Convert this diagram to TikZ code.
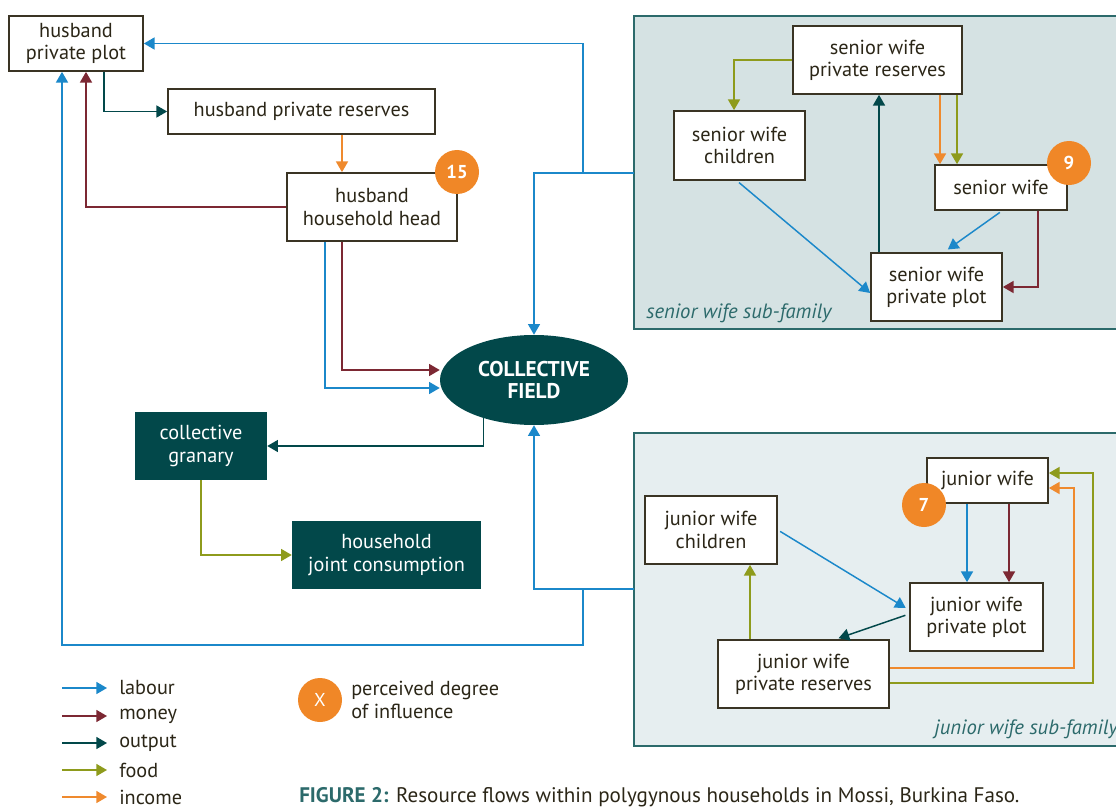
\documentclass[tikz,border=0pt]{standalone}
\usepackage{fontspec}
\setmainfont{PT Sans}
\usetikzlibrary{arrows.meta,shapes.geometric}
\definecolor{labc}{HTML}{1B88CA}
\definecolor{monc}{HTML}{7C2833}
\definecolor{outc}{HTML}{02484A}
\definecolor{foodc}{HTML}{8E9B1C}
\definecolor{incc}{HTML}{EF8A2E}
\definecolor{boxc}{HTML}{3A3424}
\definecolor{txtc}{HTML}{2B2617}
\definecolor{seniorbg}{HTML}{D5E2E3}
\definecolor{juniorbg}{HTML}{E6EEF0}
\definecolor{panelc}{HTML}{2C6A6B}
\definecolor{orangec}{HTML}{F08727}
\newcommand\fsz{\fontsize{15.2}{16.6}\selectfont}
\tikzset{
  box/.style={draw=boxc, line width=1.3pt, fill=white, text=txtc, align=center, inner sep=0pt, font=\fsz},
  dbox/.style={fill=outc, text=white, align=center, inner sep=0pt, font=\fsz},
  flow/.style={line width=1.1pt, -{Triangle[width=9pt,length=8pt]}},
  lab/.style={flow, draw=labc, -{Triangle[width=9pt,length=8pt,fill=labc]}},
  mon/.style={flow, draw=monc},
  outp/.style={flow, draw=outc},
  food/.style={flow, draw=foodc},
  inc/.style={flow, draw=incc},
  badge/.style={circle, fill=orangec, text=white, minimum size=33pt, inner sep=0pt, font=\fontsize{14}{14}\selectfont\bfseries},
  panel/.style={draw=panelc, line width=1.2pt},
  sublabel/.style={text=panelc, font=\fontsize{15.5}{16}\selectfont\itshape, inner sep=0pt},
  legtxt/.style={text=txtc, font=\fsz, anchor=west, inner sep=0pt, align=left}
}
\begin{document}
\begin{tikzpicture}[x=0.75pt,y=-0.75pt]
\useasboundingbox (0,0) rectangle (1116,806);
% panels
\fill[seniorbg] (634,16) rectangle (1122,329);
\draw[panel] (1122,16) -- (634,16) -- (634,329) -- (1122,329);
\fill[juniorbg] (634,433) rectangle (1122,746);
\draw[panel] (1122,433) -- (634,433) -- (634,746) -- (1122,746);
\coordinate (spw) at (634,173);
\coordinate (jpw) at (634,589);

% main nodes
\node[box, minimum width=100.5pt, minimum height=41.25pt] (hpp) at (76,43.5) {husband\\private plot};
\node[box, minimum width=200.25pt, minimum height=33.75pt] (hpr) at (301.5,111.5) {husband private reserves};
\node[box, minimum width=127.5pt, minimum height=51pt] (hhh) at (372,207) {husband\\household head};
\node[ellipse, fill=outc, text=white, minimum width=141pt, minimum height=67.5pt, inner sep=0pt, align=center, font=\fontsize{16}{17}\selectfont\bfseries] (cf) at (534,380) {COLLECTIVE\\FIELD};
\node[dbox, minimum width=99pt, minimum height=51pt] (gran) at (201,446) {collective\\granary};
\node[dbox, minimum width=141.75pt, minimum height=51pt] (hjc) at (386.5,555) {household\\joint consumption};

% senior
\node[box, minimum width=126.75pt, minimum height=51pt] (swpr) at (877.5,60) {senior wife\\private reserves};
\node[box, minimum width=98.25pt, minimum height=51.75pt] (swc) at (739.5,145.5) {senior wife\\children};
\node[box, minimum width=99pt, minimum height=33.75pt] (sw) at (1001,187.5) {senior wife};
\node[box, minimum width=98.25pt, minimum height=51pt] (swpp) at (936.5,287) {senior wife\\private plot};
\node[sublabel, anchor=west] (slab) at (646,313) {senior wife sub-family};

% junior
\node[box, minimum width=90.75pt, minimum height=33.75pt] (jw) at (987.5,480.5) {junior wife};
\node[box, minimum width=99pt, minimum height=51pt] (jwc) at (711,530) {junior wife\\children};
\node[box, minimum width=99.75pt, minimum height=51pt] (jwpp) at (976.5,617) {junior wife\\private plot};
\node[box, minimum width=128.25pt, minimum height=51pt] (jwpr) at (803.5,674) {junior wife\\private reserves};
\node[sublabel, anchor=east] (jlab) at (1118,729) {junior wife sub-family};

% husband-side flows
\coordinate (sj1) at (583,173);
\coordinate (sj2) at (534,173);
\draw[lab] (spw) -- (sj2) -- (cf.north);
\draw[lab] (sj1) |- (hpp.east);
\coordinate (jj1) at (583,589);
\coordinate (jj2) at (534,589);
\coordinate (jj3) at (583,645);
\coordinate (jj4) at (62,645);
\draw[lab] (jpw) -- (jj2) -- (cf.south);
\draw[lab] (jj1) -- (jj3) -- (jj4) -- (62,0 |- hpp.south);
\draw[lab] (325,0 |- hhh.south) |- (cf.west |- 0,388);
\draw[mon] (342,0 |- hhh.south) |- (cf.west |- 0,370);
\draw[mon] (hhh.west) -| (86,0 |- hpp.south);
\draw[outp] (104,0 |- hpp.south) |- (hpr.west);
\draw[inc] (342,0 |- hpr.south) -- (342,0 |- hhh.north);
\draw[outp] (cf.217.3) |- (gran.east);
\draw[food] (gran.south) |- (hjc.west);

% senior flows
\draw[food] (swpr.west) -| (734,0 |- swc.north);
\draw[outp] (879,0 |- swpp.north) -- (879,0 |- swpr.south);
\draw[inc] (940,0 |- swpr.south) -- (940,0 |- sw.north);
\draw[food] (957,0 |- swpr.south) -- (957,0 |- sw.north);
\draw[lab, shorten <=2pt] (737,0 |- swc.south) -- (swpp.west |- 0,293);
\draw[lab, shorten <=2pt, shorten >=3.5pt] (1002,0 |- sw.south) -- (944,0 |- swpp.north);
\draw[mon] (1038,0 |- sw.south) |- (swpp.east);

% junior flows
\draw[lab] (967,0 |- jw.south) -- (967,0 |- jwpp.north);
\draw[mon] (1009,0 |- jw.south) -- (1009,0 |- jwpp.north);
\draw[lab, shorten <=2pt, shorten >=3pt] (jwc.east |- 0,530) -- (jwpp.west |- 0,610);
\draw[outp, shorten <=3pt, shorten >=2pt] (jwpp.west |- 0,614) -- (836,0 |- jwpr.north);
\draw[food] (750,0 |- jwpr.north) -- (750,0 |- jwc.south);
\coordinate (ji1) at (1074,668);
\coordinate (ji2) at (1074,488);
\draw[inc] (jwpr.east |- 0,668) -- (ji1) -- (ji2) -- (jw.east |- 0,488);
\coordinate (jf1) at (1093,683);
\coordinate (jf2) at (1093,473);
\draw[food] (jwpr.east |- 0,683) -- (jf1) -- (jf2) -- (jw.east |- 0,473);

% badges
\node[badge] (b15) at (457,172) {15};
\node[badge] (b9) at (1069,163) {9};
\node[badge] (b7) at (924,505) {7};

% legend
\foreach \nm/\sty/\yy/\txt in {l1/lab/688/labour, l2/mon/716/money, l3/outp/743/output, l4/food/770/food, l5/inc/797/income}{
  \coordinate (\nm a) at (62,\yy);
  \coordinate (\nm b) at (107,\yy);
  \draw[\sty] (\nm a) -- (\nm b);
  \node[legtxt] (\nm t) at (119,\yy) {\txt};
}
\node[badge, font=\fontsize{14}{14}\selectfont] (bx) at (320,700) {X};
\node[legtxt] (bxt) at (351,700) {perceived degree\\of influence};

% caption
\node[anchor=west, inner sep=0pt, text=txtc, font=\fontsize{15.8}{17}\selectfont] (cap) at (299,797) {\textcolor{panelc}{\bfseries FIGURE 2:} Resource flows within polygynous households in Mossi, Burkina Faso.};
\end{tikzpicture}
\end{document}
